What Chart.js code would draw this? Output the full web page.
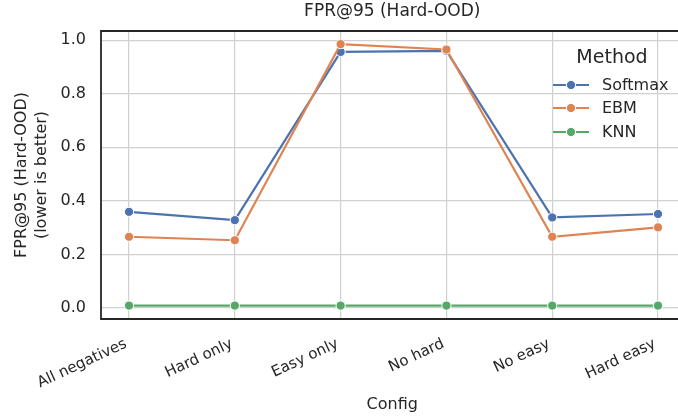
<!DOCTYPE html>
<html><head><meta charset="utf-8">
<script src="https://cdn.jsdelivr.net/npm/chart.js@4"></script>
<style>
html,body{margin:0;padding:0;background:#fff;overflow:hidden}
#wrap{position:absolute;left:0;top:0;width:700px;height:419px}
</style></head>
<body><div id="wrap"><canvas id="c" width="700" height="419"></canvas></div>
<script>
const categories = ["All negatives", "Hard only", "Easy only", "No hard", "No easy", "Hard easy"];
const softmax = [0.359, 0.328, 0.956, 0.960, 0.338, 0.351];
const ebm = [0.266, 0.253, 0.985, 0.965, 0.266, 0.301];
const knn = [0.009, 0.009, 0.009, 0.009, 0.009, 0.009];
const yTicks = [0.0, 0.2, 0.4, 0.6, 0.8, 1.0];
const seriesNames = ["Softmax", "EBM", "KNN"];
const seriesColors = ["#4C72B0", "#DD8452", "#55A868"];
const chartTitle = "FPR@95 (Hard-OOD)";

const FONT = "'DejaVu Sans', sans-serif";
const TXT = "#262626";

function mk(name, vals, color, order) {
  return {
    label: name,
    data: vals.map((v, i) => ({x: i, y: v})),
    borderColor: color,
    backgroundColor: color,
    borderWidth: 2.2,
    pointRadius: 4.6,
    pointBorderColor: "#ffffff",
    pointBorderWidth: 1,
    pointBackgroundColor: color,
    tension: 0,
    order: order
  };
}

const spines = {
  id: "spines",
  afterDraw(chart) {
    const {ctx, chartArea: a} = chart;
    ctx.save();
    ctx.strokeStyle = "#262626";
    ctx.lineWidth = 1.8;
    ctx.beginPath();
    ctx.moveTo(chart.width + 2, a.top);
    ctx.lineTo(a.left, a.top);
    ctx.lineTo(a.left, a.bottom);
    ctx.lineTo(chart.width + 2, a.bottom);
    ctx.stroke();
    ctx.fillStyle = TXT;
    ctx.font = "17px " + FONT;
    ctx.textAlign = "center";
    ctx.textBaseline = "middle";
    ctx.fillText(chartTitle, (a.left + a.right) / 2, 12);
    ctx.restore();
  }
};

const legendPlugin = {
  id: "inlegend",
  afterDraw(chart) {
    const ctx = chart.ctx;
    ctx.save();
    ctx.fillStyle = TXT;
    ctx.font = "19px " + FONT;
    ctx.textAlign = "center";
    ctx.textBaseline = "middle";
    ctx.fillText("Method", 612, 58);
    ctx.font = "16px " + FONT;
    ctx.textAlign = "left";
    const ys = [85, 108, 132];
    chart.data.datasets.forEach((ds, i) => {
      const y = ys[i];
      ctx.strokeStyle = ds.borderColor;
      ctx.lineWidth = 2.2;
      ctx.beginPath(); ctx.moveTo(553, y); ctx.lineTo(589, y); ctx.stroke();
      ctx.beginPath(); ctx.arc(571, y, 4.6, 0, Math.PI * 2);
      ctx.fillStyle = ds.borderColor; ctx.fill();
      ctx.strokeStyle = "#fff"; ctx.lineWidth = 1; ctx.stroke();
      ctx.fillStyle = TXT;
      ctx.fillText(ds.label, 602, y + 1);
    });
    ctx.restore();
  }
};

new Chart(document.getElementById("c"), {
  type: "line",
  data: {
    datasets: [
      mk(seriesNames[0], softmax, seriesColors[0], 3),
      mk(seriesNames[1], ebm, seriesColors[1], 2),
      mk(seriesNames[2], knn, seriesColors[2], 1)
    ]
  },
  options: {
    responsive: false,
    devicePixelRatio: 1,
    animation: false,
    layout: {padding: {left: 0, right: 16.5, top: 31, bottom: 0}},
    plugins: {
      legend: {display: false},
      tooltip: {enabled: false},
      title: {display: false}
    },
    scales: {
      x: {
        type: "linear",
        min: -0.265, max: 5.241,
        afterBuildTicks: s => { s.ticks = categories.map((c, i) => ({value: i})); },
        afterFit: s => { s.height = 100; s.paddingLeft = 0; s.paddingRight = 0; },
        ticks: {
          autoSkip: false,
          minRotation: 25, maxRotation: 25,
          color: TXT,
          font: {family: FONT, size: 15},
          padding: 16,
          labelOffset: -3,
          callback: v => categories[v]
        },
        grid: {color: "#d0d0d0", lineWidth: 1.2, drawTicks: false},
        border: {display: false},
        title: {
          display: true, text: "Config", color: TXT,
          font: {family: FONT, size: 16}, padding: {top: 0, bottom: 5}
        }
      },
      y: {
        min: -0.041, max: 1.034,
        afterBuildTicks: s => { s.ticks = yTicks.map(v => ({value: v})); },
        afterFit: s => { s.width = 101; s.paddingTop = 0; s.paddingBottom = 0; },
        ticks: {
          color: TXT,
          font: {family: FONT, size: 16},
          padding: 15,
          callback: v => Number(v).toFixed(1)
        },
        grid: {color: "#d0d0d0", lineWidth: 1.2, drawTicks: false},
        border: {display: false},
        title: {
          display: true, text: ["FPR@95 (Hard-OOD)", "(lower is better)"], color: TXT,
          font: {family: FONT, size: 16, lineHeight: 1.25}, padding: {top: 12, bottom: 0}
        }
      }
    }
  },
  plugins: [spines, legendPlugin]
});
</script>
</body></html>
